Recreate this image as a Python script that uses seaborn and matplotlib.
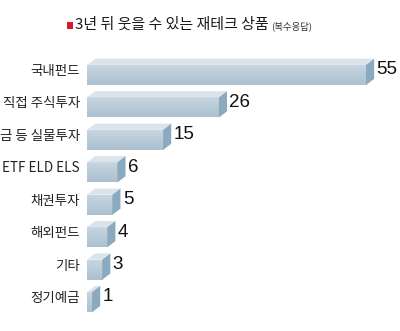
import matplotlib
matplotlib.use("Agg")
import numpy as np
import pandas as pd
import matplotlib.pyplot as plt
import seaborn as sns
from matplotlib.patches import Polygon, Rectangle
from matplotlib.colors import LinearSegmentedColormap
from matplotlib.transforms import ScaledTranslation

categories = ["국내펀드", "직접 주식투자", "금 등 실물투자", "ETF ELD ELS",
              "채권투자", "해외펀드", "기타", "정기예금"]
values = [55, 26, 15, 6, 5, 4, 3, 1]
title = "3년 뒤 웃을 수 있는 재테크 상품"
subtitle = "(복수응답)"

sns.set_theme(style="white")
plt.rcParams["font.family"] = ["Noto Sans CJK KR", "DejaVu Sans"]

W, H = 400, 331
fig = plt.figure(figsize=(W / 100, H / 100), dpi=100)
fig.patch.set_facecolor("white")
ax = fig.add_axes([87 / W, 11 / H, 313 / W, 270 / H])

df = pd.DataFrame({"item": categories, "pct": values})
sns.barplot(data=df, x="pct", y="item", orient="h", color="#b4c7d6",
            saturation=1, width=0.62, ax=ax, edgecolor="none")

XLIM = (0, 61.7)
YLIM = (7.55, -0.77)
ax.set_xlim(*XLIM)
ax.set_ylim(*YLIM)
ax.set_xlabel("")
ax.set_ylabel("")
ax.set_xticks([])
for s in ax.spines.values():
    s.set_visible(False)
ax.tick_params(axis="y", length=0, pad=5, labelsize=9.7, colors="#222222")
# category labels sit level with the upper part of each block
for lab in ax.get_yticklabels():
    lab.set_transform(lab.get_transform() + ScaledTranslation(0, 4 / 72, fig.dpi_scale_trans))

# extrusion depth of the pseudo-3D bars, in data units
dx, dy = 1.6, 0.19
grad = np.linspace(0, 1, 64).reshape(-1, 1)
front_cmap = LinearSegmentedColormap.from_list("front", ["#c8d7e2", "#abc0d0"])

for patch, v in zip(ax.patches, values):
    x0, y0 = patch.get_x(), patch.get_y()
    w, h = patch.get_width(), patch.get_height()
    im = ax.imshow(grad, cmap=front_cmap, aspect="auto",
                   extent=(x0, x0 + w, y0 + h, y0), zorder=2,
                   interpolation="bilinear")
    im.set_clip_path(patch)
    top = Polygon([(x0, y0), (x0 + w, y0), (x0 + w + dx, y0 - dy), (x0 + dx, y0 - dy)],
                  closed=True, facecolor="#dbe4ed", edgecolor="none", zorder=3)
    side = Polygon([(x0 + w, y0), (x0 + w + dx, y0 - dy), (x0 + w + dx, y0 + h - dy),
                    (x0 + w, y0 + h)],
                   closed=True, facecolor="#8caabf", edgecolor="none", zorder=3)
    ax.add_patch(top)
    ax.add_patch(side)
    ax.text(x0 + w + dx + 0.45, y0 + h / 2 - 0.16, f"{v}",
            ha="left", va="center", fontsize=13.5,
            family=["Liberation Sans", "DejaVu Sans"], color="#111111")

ax.set_xlim(*XLIM)
ax.set_ylim(*YLIM)

# title with red marker
fig.patches.append(Rectangle((67 / W, 1 - 29 / H), 6 / W, 7 / H,
                             transform=fig.transFigure, facecolor="#d71a28",
                             edgecolor="none"))
fig.text(75 / W, 1 - 24.5 / H, title, ha="left", va="center", fontsize=10.8,
         color="#1a1a1a")
fig.text(271 / W, 1 - 26 / H, subtitle, ha="left", va="center", fontsize=6.8,
         color="#333333")

fig.savefig("out.png", dpi=100, facecolor="white")
